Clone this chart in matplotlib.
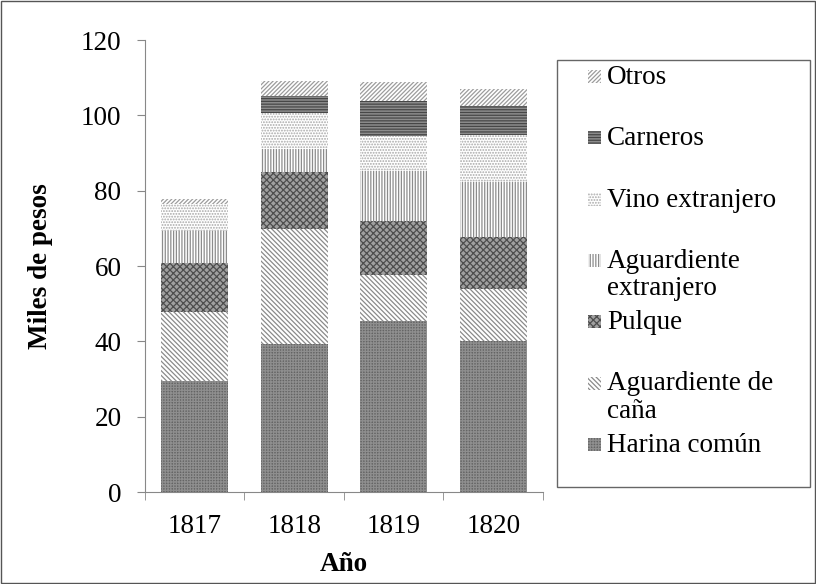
import matplotlib.pyplot as plt
import matplotlib.patches as mpatches
import numpy as np

plt.rcParams['font.family'] = ['Liberation Serif', 'DejaVu Serif']
plt.rcParams['hatch.linewidth'] = 0.9

years = ['1817', '1818', '1819', '1820']
series = ['Harina común', 'Aguardiente de\ncaña', 'Pulque', 'Aguardiente\nextranjero',
          'Vino extranjero', 'Carneros', 'Otros']
harina = [29.4, 39.3, 45.3, 40.0]
cana = [18.3, 30.6, 12.3, 13.8]
pulque = [13.0, 15.0, 14.3, 14.0]
ag_ext = [8.5, 6.2, 13.4, 14.4]
vino = [7.3, 9.6, 9.3, 12.6]
carneros = [0.0, 4.4, 9.1, 7.6]
otros = [1.3, 3.9, 5.2, 4.6]

values = [harina, cana, pulque, ag_ext, vino, carneros, otros]
# (facecolor, hatch color, hatch)
styles = [
    ('#646464', '#8e8e8e', '++++++'),
    ('white', '#8a8a8a', '\\' * 7),
    ('#a0a0a0', '#4e4e4e', 'xxxxx'),
    ('white', '#8c8c8c', '|' * 6),
    ('white', '#a8a8a8', '......'),
    ('#8c8c8c', '#474747', '-' * 6),
    ('white', '#9c9c9c', '/' * 8),
]

fig = plt.figure(figsize=(8.16, 5.84), dpi=100)
ax = fig.add_axes([0.1777, 0.1575, 0.4877, 0.774])

x = np.arange(len(years))
bottom = np.zeros(len(years))
for vals, (fc, hc, h) in zip(values, styles):
    ax.bar(x, vals, 0.67, bottom=bottom, facecolor=fc, edgecolor=hc, hatch=h, linewidth=0)
    bottom += np.array(vals)

fs = 19.5
ax.set_xlim(-0.5, 3.5)
ax.set_ylim(0, 120)
ax.set_yticks(range(0, 121, 20))
ax.set_xticks(x)
ax.set_xticklabels(years)
ax.set_xticks(np.arange(-0.5, 4, 1), minor=True)
ax.tick_params(axis='x', which='major', length=0, labelsize=fs, pad=16)
ax.tick_params(axis='x', which='minor', length=6, color='#888888')
ax.tick_params(axis='y', length=6, color='#888888', labelsize=fs, pad=11)
for s in ['top', 'right']:
    ax.spines[s].set_visible(False)
for s in ['left', 'bottom']:
    ax.spines[s].set_color('#888888')
ax.set_xlabel('Año', fontsize=fs, fontweight='bold', labelpad=9)
ax.set_ylabel('Miles de pesos', fontsize=fs, fontweight='bold', labelpad=20)

# legend drawn by hand to match the slot layout
lx0, ly0, lx1, ly1 = 557 / 816, 1 - 487 / 584, 810 / 816, 1 - 60 / 584
fig.patches.append(mpatches.Rectangle((lx0, ly0), lx1 - lx0, ly1 - ly0, transform=fig.transFigure,
                                      facecolor='white', edgecolor='#666666', linewidth=1))
order = list(range(len(series)))[::-1]
for k, i in enumerate(order):
    fc, hc, h = styles[i]
    slot = 76 + 61.3 * k
    yc = 1 - slot / 584
    fig.patches.append(mpatches.Rectangle((588 / 816, yc - 7 / 584), 13 / 816, 13 / 584,
                                          transform=fig.transFigure, facecolor=fc,
                                          edgecolor=hc, hatch=h, linewidth=0))
    fig.text(607 / 816, yc + 11 / 584, series[i], fontsize=fs, va='top', ha='left',
             linespacing=1.12)

fig.patches.append(mpatches.Rectangle((0.001, 0.001), 0.998, 0.998, transform=fig.transFigure,
                                      facecolor='none', edgecolor='#555555', linewidth=1))

fig.savefig('out.png', dpi=100)
